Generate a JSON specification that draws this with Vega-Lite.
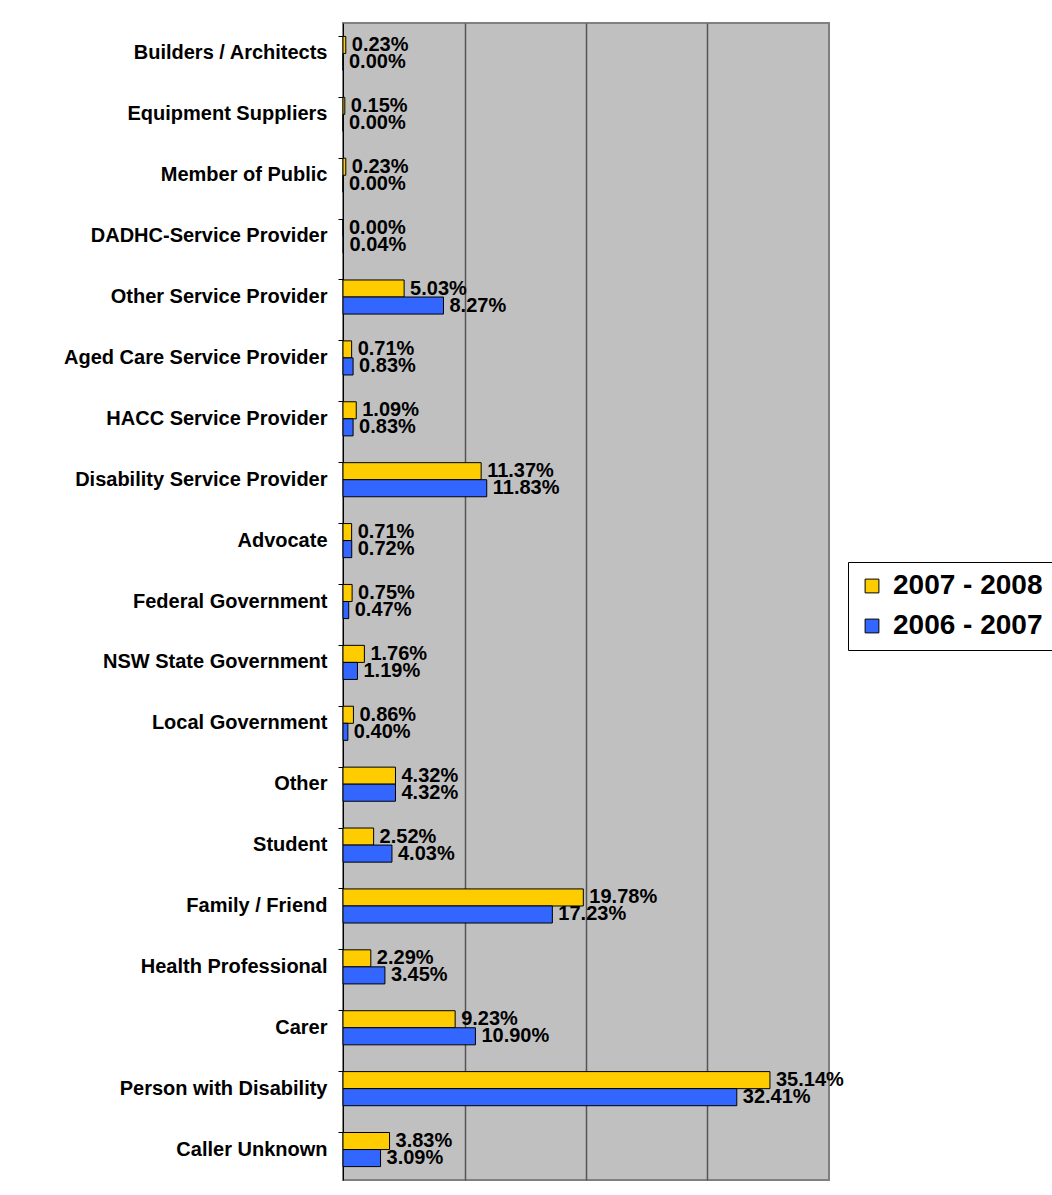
{
  "$schema": "https://vega.github.io/schema/vega-lite/v6.json",
  "autosize": {"type": "none"},
  "padding": {"left": 343, "top": 23, "right": 223, "bottom": 15},
  "width": 486,
  "height": 1157,
  "background": "white",
  "config": {
    "view": {"fill": "#C0C0C0", "stroke": "#808080", "strokeWidth": 2},
    "font": "Liberation Sans"
  },
  "data": {
    "values": [
      {"caller": "Builders / Architects", "year": "2007 - 2008", "share": 0.0023},
      {"caller": "Builders / Architects", "year": "2006 - 2007", "share": 0.0},
      {"caller": "Equipment Suppliers", "year": "2007 - 2008", "share": 0.0015},
      {"caller": "Equipment Suppliers", "year": "2006 - 2007", "share": 0.0},
      {"caller": "Member of Public", "year": "2007 - 2008", "share": 0.0023},
      {"caller": "Member of Public", "year": "2006 - 2007", "share": 0.0},
      {"caller": "DADHC-Service Provider", "year": "2007 - 2008", "share": 0.0},
      {"caller": "DADHC-Service Provider", "year": "2006 - 2007", "share": 0.0004},
      {"caller": "Other Service Provider", "year": "2007 - 2008", "share": 0.0503},
      {"caller": "Other Service Provider", "year": "2006 - 2007", "share": 0.0827},
      {"caller": "Aged Care Service Provider", "year": "2007 - 2008", "share": 0.0071},
      {"caller": "Aged Care Service Provider", "year": "2006 - 2007", "share": 0.0083},
      {"caller": "HACC Service Provider", "year": "2007 - 2008", "share": 0.0109},
      {"caller": "HACC Service Provider", "year": "2006 - 2007", "share": 0.0083},
      {"caller": "Disability Service Provider", "year": "2007 - 2008", "share": 0.1137},
      {"caller": "Disability Service Provider", "year": "2006 - 2007", "share": 0.1183},
      {"caller": "Advocate", "year": "2007 - 2008", "share": 0.0071},
      {"caller": "Advocate", "year": "2006 - 2007", "share": 0.0072},
      {"caller": "Federal Government", "year": "2007 - 2008", "share": 0.0075},
      {"caller": "Federal Government", "year": "2006 - 2007", "share": 0.0047},
      {"caller": "NSW State Government", "year": "2007 - 2008", "share": 0.0176},
      {"caller": "NSW State Government", "year": "2006 - 2007", "share": 0.0119},
      {"caller": "Local Government", "year": "2007 - 2008", "share": 0.0086},
      {"caller": "Local Government", "year": "2006 - 2007", "share": 0.0040},
      {"caller": "Other", "year": "2007 - 2008", "share": 0.0432},
      {"caller": "Other", "year": "2006 - 2007", "share": 0.0432},
      {"caller": "Student", "year": "2007 - 2008", "share": 0.0252},
      {"caller": "Student", "year": "2006 - 2007", "share": 0.0403},
      {"caller": "Family / Friend", "year": "2007 - 2008", "share": 0.1978},
      {"caller": "Family / Friend", "year": "2006 - 2007", "share": 0.1723},
      {"caller": "Health Professional", "year": "2007 - 2008", "share": 0.0229},
      {"caller": "Health Professional", "year": "2006 - 2007", "share": 0.0345},
      {"caller": "Carer", "year": "2007 - 2008", "share": 0.0923},
      {"caller": "Carer", "year": "2006 - 2007", "share": 0.1090},
      {"caller": "Person with Disability", "year": "2007 - 2008", "share": 0.3514},
      {"caller": "Person with Disability", "year": "2006 - 2007", "share": 0.3241},
      {"caller": "Caller Unknown", "year": "2007 - 2008", "share": 0.0383},
      {"caller": "Caller Unknown", "year": "2006 - 2007", "share": 0.0309}
    ]
  },
  "encoding": {
    "y": {
      "field": "caller", "type": "nominal", "sort": null, "title": null,
      "scale": {"paddingInner": 0.44, "paddingOuter": 0.22},
      "axis": {
        "labelFont": "Liberation Sans", "labelFontWeight": "bold", "labelFontSize": 20,
        "labelColor": "black", "labelPadding": 11, "tickSize": 5, "tickColor": "black",
        "domainColor": "black", "domainWidth": 1, "bandPosition": 0, "ticks": true,
        "labelLimit": 400
      }
    },
    "yOffset": {
      "field": "year", "type": "nominal",
      "sort": ["2007 - 2008", "2006 - 2007"],
      "scale": {"paddingInner": 0, "paddingOuter": 0}
    },
    "x": {
      "field": "share", "type": "quantitative", "title": null,
      "scale": {"domain": [0, 0.4], "nice": false, "zero": true},
      "axis": {
        "values": [0.1, 0.2, 0.3], "labels": false, "ticks": false, "domain": false,
        "grid": true, "gridColor": "#555555", "gridWidth": 1.5
      }
    }
  },
  "layer": [
    {
      "mark": {"type": "bar", "stroke": "black", "strokeWidth": 1},
      "encoding": {
        "color": {
          "field": "year", "type": "nominal",
          "sort": ["2007 - 2008", "2006 - 2007"],
          "scale": {"domain": ["2007 - 2008", "2006 - 2007"], "range": ["#FFCC00", "#3366FF"]},
          "legend": {
            "title": null, "orient": "none", "legendX": 505, "legendY": 539,
            "labelFont": "Liberation Sans", "labelFontWeight": "bold", "labelFontSize": 28,
            "labelColor": "black", "symbolType": "square", "symbolSize": 190,
            "symbolStrokeColor": "black", "symbolStrokeWidth": 1,
            "fillColor": "white", "strokeColor": "black", "padding": 10,
            "rowPadding": 12, "labelOffset": 7, "labelLimit": 400
          }
        }
      }
    },
    {
      "mark": {
        "type": "text", "align": "left", "baseline": "middle", "dx": 6,
        "font": "Liberation Sans", "fontWeight": "bold", "fontSize": 20, "color": "black"
      },
      "encoding": {
        "text": {"field": "share", "type": "quantitative", "format": ".2%"}
      }
    }
  ]
}
